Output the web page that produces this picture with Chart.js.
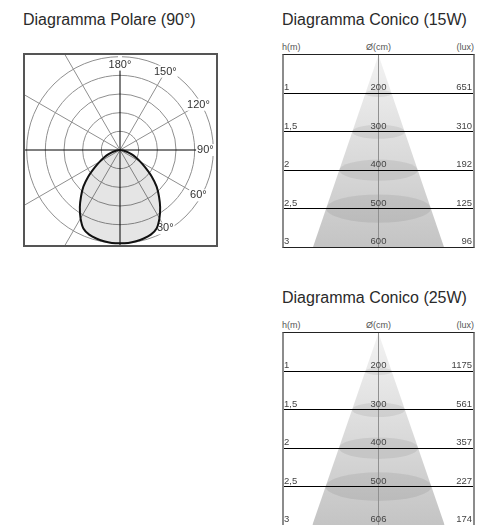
<!DOCTYPE html>
<html>
<head>
<meta charset="utf-8">
<script src="https://cdn.jsdelivr.net/npm/chart.js@4.4.1/dist/chart.umd.min.js"></script>
<style>
body { margin:0; width:478px; height:525px; overflow:hidden; position:relative; background:#fff; font-family:'Liberation Sans', Arial, sans-serif; color:#2a2a2a; }
.title { position:absolute; font-size:16px; white-space:nowrap; line-height:18px; }
.head { position:absolute; font-size:9px; line-height:10px; color:#555; white-space:nowrap; }
.box { position:absolute; overflow:hidden; box-sizing:border-box; }
.cone { width:193px; height:194px; border-left:2px solid #8c8c8c; border-right:2px solid #8c8c8c; border-top:1px solid #222; border-bottom:1px solid #222; }
canvas { position:absolute; left:0; top:0; }
</style>
</head>
<body>
<div class="title" style="left:23px;top:11px">Diagramma Polare (90°)</div>
<div class="box" style="left:23px;top:53px;width:195px;height:194px;border:2px solid #555">
  <canvas id="polar" width="280" height="280" style="left:-45px;top:-45px"></canvas>
</div>

<div class="title" style="left:282px;top:11px">Diagramma Conico (15W)</div>
<div class="head" style="left:282px;top:42px">h(m)</div>
<div class="head" style="left:338px;top:42px;width:81px;text-align:center">Ø(cm)</div>
<div class="head" style="right:4px;top:42px">(lux)</div>
<div class="box cone" style="left:282px;top:54px"><canvas id="cone15" width="189" height="192"></canvas></div>

<div class="title" style="left:282px;top:289px">Diagramma Conico (25W)</div>
<div class="head" style="left:282px;top:320px">h(m)</div>
<div class="head" style="left:338px;top:320px;width:81px;text-align:center">Ø(cm)</div>
<div class="head" style="right:4px;top:320px">(lux)</div>
<div class="box cone" style="left:282px;top:332px"><canvas id="cone25" width="189" height="192"></canvas></div>

<script>
// polar curve, every 5 degrees from 0 (down) to 90
const lobeValues = [100, 100, 99.3, 98.2, 96.5, 92.8, 84.5, 75, 65, 55.5, 44.5, 33.5, 25, 18.5, 13, 8.5, 4.5, 1.5, 0];
const polarTickLabels = [180, 150, 120, 90, 60, 30];

// conic diagrams
const heights = [1, 1.5, 2, 2.5, 3];
const heightLabels = ['1', '1,5', '2', '2,5', '3'];
const diam15 = [200, 300, 400, 500, 600];
const lux15 = [651, 310, 192, 125, 96];
const diam25 = [200, 300, 400, 500, 606];
const lux25 = [1175, 561, 357, 227, 174];

Chart.defaults.font.family = "'Liberation Sans', Arial, sans-serif";

const polarLabels = Array.from({length: 72}, (_, k) => String(k * 5));
const polarData = polarLabels.map((_, k) => {
	const a = Math.min(k, 72 - k);
	return a < lobeValues.length ? lobeValues[a] : 0;
});

// angle labels on the right side, lines stop at the label
const polarTextPlugin = {
	id: 'polarText',
	beforeDatasetsDraw(chart) {
		const scale = chart.scales.r;
		const ctx = chart.ctx;
		ctx.save();
		ctx.font = "11px 'Liberation Sans', Arial, sans-serif";
		ctx.textAlign = 'center';
		ctx.textBaseline = 'middle';
		polarTickLabels.forEach(deg => {
			const idx = (72 - deg / 5) % 72;
			const v = deg % 90 === 0 ? 91.5 : 97;
			const p = scale.getPointPositionForValue(idx, v);
			const far = scale.getPointPositionForValue(idx, 150);
			ctx.strokeStyle = '#fff';
			ctx.lineWidth = 4;
			ctx.beginPath();
			ctx.moveTo(p.x, p.y);
			ctx.lineTo(far.x, far.y);
			ctx.stroke();
			const txt = deg + '°';
			const w = ctx.measureText(txt).width;
			ctx.fillStyle = '#fff';
			ctx.fillRect(p.x - w / 2 - 1, p.y - 6, w + 2, 12);
			ctx.fillStyle = '#333';
			ctx.fillText(txt, p.x, p.y);
		});
		ctx.restore();
	}
};

new Chart(document.getElementById('polar'), {
	type: 'radar',
	data: {
		labels: polarLabels,
		datasets: [{
			data: polarData,
			borderColor: '#111',
			borderWidth: 2,
			backgroundColor: 'rgba(0,0,0,0.1)',
			fill: true,
			pointRadius: 0,
			tension: 0.2
		}]
	},
	options: {
		responsive: false,
		animation: false,
		layout: {padding: 0},
		plugins: {legend: {display: false}, tooltip: {enabled: false}},
		scales: {
			r: {
				min: 0,
				max: 150,
				startAngle: 180,
				ticks: {display: false, stepSize: 20},
				pointLabels: {display: false},
				grid: {
					circular: true,
					color: '#8f8f8f',
					lineWidth: ctx => (ctx.tick && ctx.tick.value > 0 && ctx.tick.value <= 100) ? 1 : 0
				},
				angleLines: {
					color: ctx => ctx.index % 18 === 0 ? '#000' : '#8f8f8f',
					lineWidth: ctx => ctx.index % 6 === 0 ? 1 : 0
				}
			}
		}
	},
	plugins: [polarTextPlugin]
});

const coneGradient = chart => {
	const area = chart.chartArea;
	if (!area) return '#ddd';
	const g = chart.ctx.createLinearGradient(0, area.top, 0, area.bottom);
	g.addColorStop(0, '#f3f3f3');
	g.addColorStop(1, '#c4c4c4');
	return g;
};

const ellipsePlugin = {
	id: 'ellipses',
	afterDatasetsDraw(chart) {
		const pts = chart.getDatasetMeta(0).data;
		const apex = pts[1], base = pts[2];
		const yScale = chart.scales.y;
		const ctx = chart.ctx;
		ctx.save();
		ctx.fillStyle = 'rgba(0,0,0,0.07)';
		heights.slice(0, -1).forEach(h => {
			const y = yScale.getPixelForValue(h);
			const hw = (base.x - apex.x) * (y - apex.y) / (base.y - apex.y);
			ctx.beginPath();
			ctx.ellipse(apex.x, y, hw, hw * 0.27, 0, 0, Math.PI * 2);
			ctx.fill();
		});
		ctx.restore();
	}
};

function coneLabels(diam, lux) {
	return {
		id: 'coneLabels',
		afterDraw(chart) {
			const {ctx, chartArea} = chart;
			const xc = chart.scales.x.getPixelForValue(0);
			ctx.save();
			ctx.font = "9.5px 'Liberation Sans', Arial, sans-serif";
			ctx.fillStyle = '#444';
			ctx.textBaseline = 'alphabetic';
			heights.forEach((h, i) => {
				const y = chart.scales.y.getPixelForValue(h) - 3;
				ctx.textAlign = 'left';
				ctx.fillText(heightLabels[i], chartArea.left, y);
				ctx.textAlign = 'center';
				ctx.fillText(String(diam[i]), xc, y);
				ctx.textAlign = 'right';
				ctx.fillText(String(lux[i]), chartArea.right - 1, y);
			});
			ctx.restore();
		}
	};
}

function makeCone(id, diam, lux) {
	const last = heights.length - 1;
	const hTop = 0.5;
	new Chart(document.getElementById(id), {
		type: 'scatter',
		data: {
			datasets: [{
				data: [
					{x: -diam[last] / 2, y: heights[last]},
					{x: 0, y: hTop},
					{x: diam[last] / 2, y: heights[last]}
				],
				showLine: true,
				fill: {value: heights[last]},
				borderWidth: 0,
				pointRadius: 0,
				backgroundColor: ctx => coneGradient(ctx.chart)
			}]
		},
		options: {
			responsive: false,
			animation: false,
			layout: {padding: 0},
			plugins: {legend: {display: false}, tooltip: {enabled: false}},
			scales: {
				x: {
					type: 'linear', min: -433, max: 433,
					ticks: {display: false},
					grid: {color: '#909090', drawTicks: false, z: 1},
					border: {display: false},
					afterBuildTicks: s => { s.ticks = [{value: 0}]; }
				},
				y: {
					type: 'linear', reverse: true, min: hTop, max: heights[last],
					ticks: {display: false},
					grid: {color: '#000', drawTicks: false, z: 1},
					border: {display: false},
					afterBuildTicks: s => { s.ticks = heights.slice(0, last).map(v => ({value: v})); }
				}
			}
		},
		plugins: [ellipsePlugin, coneLabels(diam, lux)]
	});
}

makeCone('cone15', diam15, lux15);
makeCone('cone25', diam25, lux25);
</script>
</body>
</html>
